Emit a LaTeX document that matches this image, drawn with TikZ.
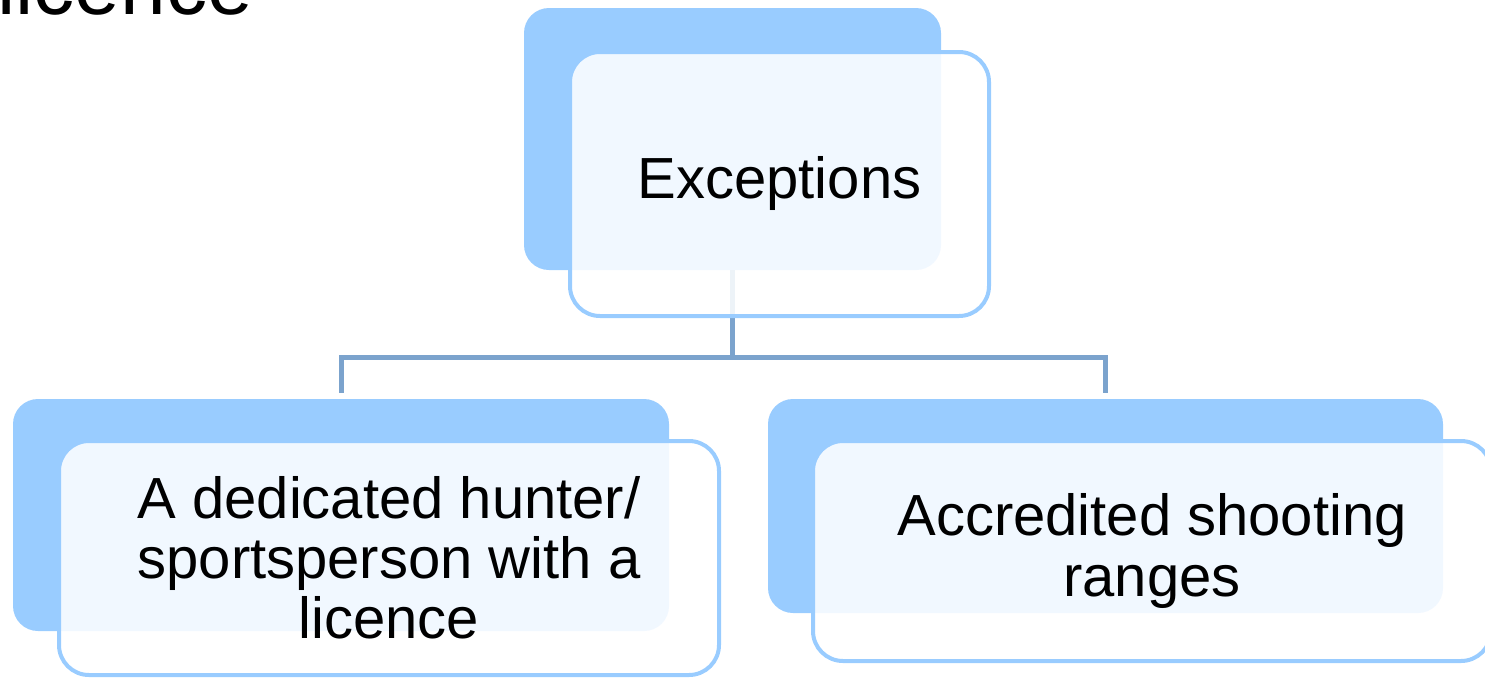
\documentclass[tikz,border=0pt]{standalone}
\usepackage{fontspec}
\setmainfont{Liberation Sans}
\usepackage{tikz}
\usetikzlibrary{positioning}

\definecolor{boxblue}{RGB}{153,204,255}
\definecolor{linkblue}{RGB}{123,163,205}

\tikzset{
  backbox/.style={fill=boxblue, rounded corners=0.5cm, inner sep=0pt},
  frontbox/.style={draw=boxblue, line width=0.08cm, fill=white, fill opacity=0.87,
    text opacity=1, rounded corners=0.6cm, inner sep=0pt, align=center,
    font=\fontsize{33}{34.2}\selectfont},
  link/.style={draw=linkblue, line width=0.1cm}
}

\begin{document}
\begin{tikzpicture}

\useasboundingbox (0,0) rectangle (29.7,-13.56);

\node[anchor=base west, inner sep=0pt, font=\fontsize{46.7}{48}\selectfont] (title) at (-0.06,-0.28) {licence};

\node[backbox, minimum width=8.34cm, minimum height=5.24cm] (topback) at (14.65,-2.78) {};
\node[backbox, minimum width=13.12cm, minimum height=4.64cm] (leftback) at (6.82,-10.3) {};
\node[backbox, minimum width=13.5cm, minimum height=4.28cm] (rightback) at (22.11,-10.12) {};

\coordinate (joint) at (14.65,-7.14);
\draw[link] (topback.south) -- (joint) -| ([yshift=0.12cm]leftback.north);
\draw[link] (joint) -| ([yshift=0.12cm]rightback.north);

\node[frontbox, minimum width=8.38cm, minimum height=5.28cm] (exceptions) at (15.59,-3.68) {Exceptions};
\node[frontbox, minimum width=13.2cm, minimum height=4.68cm] (hunter) at (7.78,-11.16) {A dedicated hunter/\\sportsperson with a\\licence};
\node[frontbox, minimum width=13.56cm, minimum height=4.4cm] (ranges) at (23.04,-11.02) {Accredited shooting\\ranges};

\end{tikzpicture}
\end{document}
